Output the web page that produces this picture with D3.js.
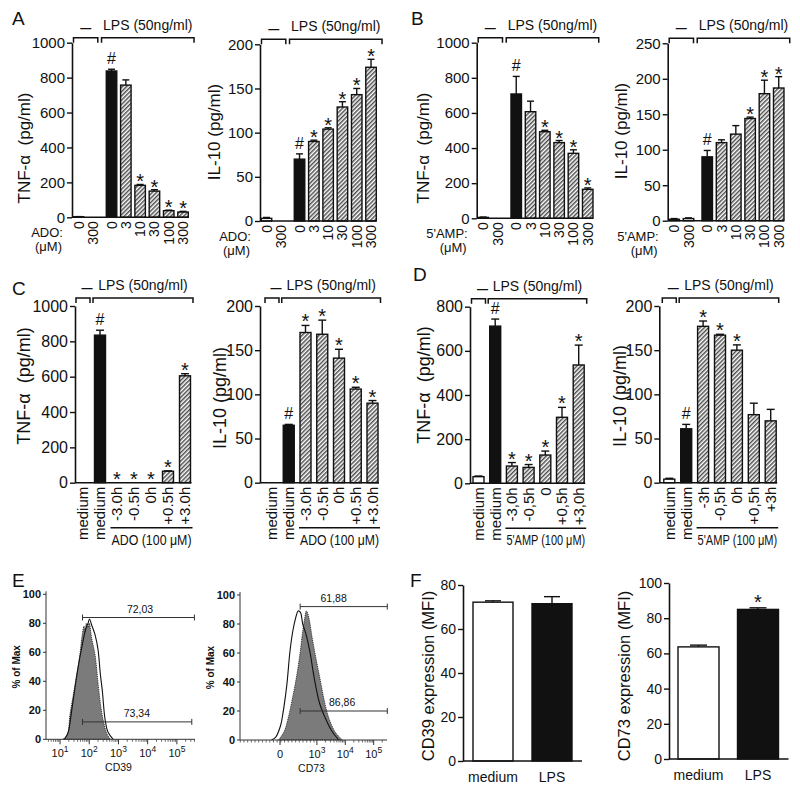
<!DOCTYPE html>
<html>
<head>
<meta charset="utf-8">
<script src="https://cdn.jsdelivr.net/npm/d3@7"></script>
<style>
  body { margin: 0; background: #fff; }
  svg text { font-family: "Liberation Sans", Arial, sans-serif; fill: #111; }
</style>
</head>
<body>
<svg id="fig" width="800" height="788"></svg>
<script>
// ---- data: panels A / B (dose response) ----
const doseLabels = ['0', '300', '0', '3', '10', '30', '100', '300'];
const doseGroups = [0, 0, 1, 1, 1, 1, 1, 1];
const doseFills = ['white', 'white', 'black', 'hatch', 'hatch', 'hatch', 'hatch', 'hatch'];

const adoTnf = [3, 0, 838, 757, 183, 150, 38, 30];
const adoTnfErr = [1, 0, 10, 30, 5, 8, 3, 4];
const adoTnfMarks = ['', '', '#', '', '*', '*', '*', '*'];

const adoIl10 = [3, 0, 70, 90, 104, 129, 143, 174];
const adoIl10Err = [1, 0, 6, 1.5, 1.5, 6, 7, 9];
const adoIl10Marks = ['', '', '#', '*', '*', '*', '*', '*'];

const ampTnf = [5, 0, 708, 607, 493, 431, 370, 165];
const ampTnfErr = [2, 0, 100, 60, 8, 12, 20, 8];
const ampTnfMarks = ['', '', '#', '', '*', '*', '*', '*'];

const ampIl10 = [2, 3, 90, 110, 122, 144, 179, 187];
const ampIl10Err = [1, 1, 9, 4, 12, 2, 19, 16];
const ampIl10Marks = ['', '', '#', '', '', '*', '*', '*'];

// ---- data: panels C / D (time of addition) ----
const timeFills = ['white', 'black', 'hatch', 'hatch', 'hatch', 'hatch', 'hatch'];
const adoTimeLabels = ['medium', 'medium', '-3.0h', '-0.5h', '0h', '+0.5h', '+3.0h'];
const ampTimeLabelsTnf = ['medium', 'medium', '-3,0h', '-0,5h', '0', '+0,5h', '+3,0h'];
const ampTimeLabelsIl10 = ['medium', 'medium', '-3h', '-0,5h', '0h', '+0,5h', '+3h'];

const adoTimeTnf = [0, 835, 0, 0, 0, 65, 605];
const adoTimeTnfErr = [0, 28, 0, 0, 0, 2, 12];
const adoTimeTnfMarks = ['', '#', '*', '*', '*', '*', '*'];

const adoTimeIl10 = [0, 65, 170, 168, 141, 106, 90];
const adoTimeIl10Err = [0, 1, 8, 16, 10, 2, 3];
const adoTimeIl10Marks = ['', '#', '*', '*', '*', '*', '*'];

const ampTimeTnf = [30, 712, 78, 72, 128, 299, 536];
const ampTimeTnfErr = [3, 32, 16, 13, 18, 45, 90];
const ampTimeTnfMarks = ['', '#', '*', '*', '*', '*', '*'];

const ampTimeIl10 = [4, 61, 177, 167, 150, 77, 70];
const ampTimeIl10Err = [1, 5, 6, 1, 6, 13, 13];
const ampTimeIl10Marks = ['', '#', '*', '*', '*', '', ''];

// ---- data: panel F (MFI) ----
const mfiLabels = ['medium', 'LPS'];
const mfiFills = ['white', 'black'];
const cd39Mfi = [72.2, 71.5];
const cd39MfiErr = [0.6, 3.2];
const cd73Mfi = [63.7, 85];
const cd73MfiErr = [1, 0.9];
const cd73Marks = ['', '*'];

// ---- data: panel E (histograms, [x on display axis, % of max]) ----
// CD39: x in log10 units
const cd39Filled = [[1.1, 0], [1.25, 3], [1.34, 17], [1.45, 30], [1.55, 42], [1.62, 50], [1.69, 60],
  [1.76, 72], [1.82, 78], [1.86, 74], [1.9, 80], [1.95, 77], [2.0, 80], [2.08, 70], [2.2, 58],
  [2.31, 37], [2.4, 22], [2.49, 12], [2.6, 4], [2.72, 0]];
const cd39Open = [[1.15, 0], [1.28, 5], [1.4, 20], [1.5, 34], [1.62, 50], [1.75, 64], [1.88, 76],
  [1.96, 80], [2.01, 83], [2.08, 79], [2.2, 72], [2.3, 62], [2.38, 45], [2.45, 33], [2.54, 14],
  [2.64, 5], [2.82, 0]];
const cd39Ticks = ['1', '2', '3', '4', '5'];
const cd39Gates = [
  { pct: 84, from: 1.77, to: 5.6, label: '72,03', lx: 3.74 },
  { pct: 12, from: 1.77, to: 5.51, label: '73,34', lx: 3.63 }
];
// CD73: x on the biexponential display axis (0 -> '0', 1.3 -> 10^3 ...)
const cd73Open = [[-0.3, 0], [-0.15, 2], [0.02, 10], [0.1, 18], [0.24, 38], [0.35, 61], [0.45, 75],
  [0.55, 84], [0.64, 89], [0.72, 88], [0.8, 80], [0.9, 74], [1.0, 66], [1.08, 58], [1.16, 48],
  [1.26, 37], [1.4, 25], [1.6, 15], [1.83, 6], [2.07, 0]];
const cd73Filled = [[-0.05, 0], [0.15, 6], [0.3, 16], [0.43, 28], [0.55, 40], [0.65, 52], [0.72, 62],
  [0.8, 75], [0.87, 84], [0.93, 89], [0.98, 87], [1.04, 82], [1.12, 72], [1.22, 61], [1.34, 49],
  [1.45, 38], [1.55, 28], [1.66, 19], [1.8, 11], [1.96, 5], [2.2, 0]];
const cd73Ticks = [{ d: 0, base: '0', exp: '' }, { d: 1.3, base: '10', exp: '3' },
  { d: 2.3, base: '10', exp: '4' }, { d: 3.3, base: '10', exp: '5' }];
const cd73Gates = [
  { pct: 92, from: 0.71, to: 3.78, label: '61,88', lx: 1.89 },
  { pct: 20, from: 0.71, to: 3.78, label: '86,86', lx: 2.19 }
];

const svg = d3.select('#fig');
const INK = '#111';

// diagonal hatch for the treated bars
const hatch = svg.append('defs').append('pattern')
  .attr('id', 'hatch')
  .attr('patternUnits', 'userSpaceOnUse')
  .attr('width', 3).attr('height', 3)
  .attr('patternTransform', 'rotate(45)');
hatch.append('rect').attr('width', 3).attr('height', 3).attr('fill', '#fff');
hatch.append('line').attr('x1', 0.8).attr('x2', 0.8).attr('y1', 0).attr('y2', 3)
  .attr('stroke', '#222').attr('stroke-width', 1.2);

function fillOf(t) {
  if (t === 'black') return INK;
  if (t === 'hatch') return 'url(#hatch)';
  return '#fff';
}

function barChart(c) {
  const g = svg.append('g');
  const y = d3.scaleLinear().domain([0, c.max]).range([c.bottom, c.top]);
  const x = d3.scaleLinear().domain([0, 1]).range([c.axisX + c.first, c.axisX + c.first + c.step]);
  const pos = c.values.map((v, i) => x(i + (c.groups ? c.groups[i] * c.gap : 0)));
  const bw = c.barW;

  g.selectAll('rect').data(c.values).join('rect')
    .attr('x', (d, i) => pos[i] - bw / 2)
    .attr('y', d => y(d))
    .attr('width', bw)
    .attr('height', d => y(0) - y(d))
    .attr('fill', (d, i) => fillOf(c.fills[i]))
    .attr('stroke', INK)
    .attr('stroke-width', 1.4);

  // error bars, upper side only
  c.values.forEach((v, i) => {
    const e = c.errs[i];
    if (!e) return;
    g.append('line').attr('x1', pos[i]).attr('x2', pos[i])
      .attr('y1', y(v)).attr('y2', y(v + e)).attr('stroke', INK).attr('stroke-width', 1.4);
    g.append('line').attr('x1', pos[i] - c.capW / 2).attr('x2', pos[i] + c.capW / 2)
      .attr('y1', y(v + e)).attr('y2', y(v + e)).attr('stroke', INK).attr('stroke-width', 1.4);
  });

  if (c.marks) {
    c.marks.forEach((m, i) => {
      if (!m) return;
      const top = y(c.values[i] + c.errs[i]);
      g.append('text')
        .attr('x', pos[i])
        .attr('y', m === '*' ? top + c.starDy : top - 5)
        .attr('text-anchor', 'middle')
        .attr('font-size', m === '*' ? c.starFont : 16)
        .text(m);
    });
  }

  // axes
  const ax = g.append('g').attr('transform', `translate(${c.axisX},0)`)
    .call(d3.axisLeft(y).tickValues(c.ticks).tickFormat(d3.format('d'))
      .tickSize(5).tickSizeOuter(0).tickPadding(2));
  ax.select('.domain').attr('stroke', INK).attr('stroke-width', 1.6);
  ax.selectAll('.tick line').attr('stroke', INK).attr('stroke-width', 1.4);
  ax.selectAll('.tick text').attr('font-size', c.tickFont)
    .attr('font-family', '"Liberation Sans", Arial, sans-serif');
  g.append('line')
    .attr('x1', c.axisX).attr('x2', pos[pos.length - 1] + bw / 2 + c.xEnd)
    .attr('y1', y(0)).attr('y2', y(0))
    .attr('stroke', INK).attr('stroke-width', 1.6);

  g.append('text')
    .attr('transform', `translate(${c.titleX},${c.titleY}) rotate(-90)`)
    .attr('text-anchor', 'middle')
    .attr('font-size', c.titleFont)
    .text(c.title);

  // category labels
  if (c.rotated) {
    c.labels.forEach((t, i) => {
      g.append('text')
        .attr('transform', `translate(${pos[i] + c.labelFont * 0.36},${y(0) + 4}) rotate(-90)`)
        .attr('text-anchor', 'end')
        .attr('font-size', c.labelFont)
        .text(t);
    });
  } else {
    c.labels.forEach((t, i) => {
      g.append('text').attr('x', pos[i]).attr('y', y(0) + 21)
        .attr('text-anchor', 'middle').attr('font-size', c.labelFont).text(t);
    });
  }

  // treatment brackets above the plot
  if (c.brackets) {
    const by = c.top - c.bracketDrop;
    c.brackets.forEach(b => {
      const x1 = pos[b.from] - b.padL;
      const x2 = pos[b.to] + b.padR;
      const dash = b.text === '—';
      g.append('path')
        .attr('d', `M${x1},${by + 5}V${by}H${x2}V${by + 5}`)
        .attr('fill', 'none').attr('stroke', INK).attr('stroke-width', 1.5);
      g.append('text').attr('x', (x1 + x2) / 2 + (b.dx || 0))
        .attr('y', dash ? by - 6 : by - 8)
        .attr('text-anchor', 'middle')
        .attr('font-size', dash ? 11 : 14)
        .attr('font-weight', dash ? 'bold' : null)
        .text(b.text);
    });
  }

  // drug label on the left of the dose row
  if (c.drug) {
    g.append('text').attr('x', c.axisX - 9).attr('y', y(0) + 20)
      .attr('text-anchor', 'end').attr('font-size', 13).text(c.drug);
    g.append('text').attr('x', c.axisX - 10).attr('y', y(0) + 34)
      .attr('text-anchor', 'end').attr('font-size', 13).text('(μM)');
  }

  // underline with treatment name for the time panels
  if (c.under) {
    const x1 = pos[2] - bw / 2 - 1;
    const x2 = pos[pos.length - 1] + bw / 2 + 2;
    const uy = y(0) + 45;
    g.append('line').attr('x1', x1).attr('x2', x2).attr('y1', uy).attr('y2', uy)
      .attr('stroke', INK).attr('stroke-width', 1.5);
    g.append('text').attr('x', (x1 + x2) / 2).attr('y', uy + 17)
      .attr('text-anchor', 'middle').attr('font-size', 14)
      .attr('textLength', x2 - x1 - 2).attr('lengthAdjust', 'spacingAndGlyphs')
      .text(c.under);
  }
}

function flowPanel(c) {
  const g = svg.append('g');
  const x = d3.scaleLinear().domain(c.xDomain).range([c.left, c.right]);
  const y = d3.scaleLinear().domain([0, 100]).range([c.bottom, c.top]);

  const area = d3.area().x(d => x(d[0])).y0(y(0)).y1(d => y(d[1])).curve(d3.curveCatmullRom);
  const line = d3.line().x(d => x(d[0])).y(d => y(d[1])).curve(d3.curveCatmullRom);
  g.append('path').datum(c.filled).attr('d', area)
    .attr('fill', '#7b7b7b').attr('stroke', '#222').attr('stroke-width', 0.9)
    .attr('stroke-dasharray', '1.2,1');
  g.append('path').datum(c.open).attr('d', line)
    .attr('fill', 'none').attr('stroke', INK).attr('stroke-width', 1.1);

  // axes
  g.append('path').attr('d', `M${c.left},${y(100) - 3}V${y(0)}H${c.right}`)
    .attr('fill', 'none').attr('stroke', '#333').attr('stroke-width', 1);
  [0, 20, 40, 60, 80, 100].forEach(v => {
    g.append('line').attr('x1', c.left - 3).attr('x2', c.left).attr('y1', y(v)).attr('y2', y(v))
      .attr('stroke', '#333');
    g.append('text').attr('x', c.left - 5).attr('y', y(v) + 4)
      .attr('text-anchor', 'end').attr('font-size', 11).attr('font-weight', 'bold').text(v);
  });
  c.minor.forEach(d => {
    if (d < c.xDomain[0] || d > c.xDomain[1]) return;
    g.append('line').attr('x1', x(d)).attr('x2', x(d)).attr('y1', y(0)).attr('y2', y(0) + 2.5)
      .attr('stroke', '#444').attr('stroke-width', 0.8);
  });
  c.ticks.forEach(t => {
    g.append('line').attr('x1', x(t.d)).attr('x2', x(t.d)).attr('y1', y(0)).attr('y2', y(0) + 5)
      .attr('stroke', '#333');
    const tx = g.append('text').attr('x', x(t.d)).attr('y', y(0) + 18)
      .attr('text-anchor', 'middle').attr('font-size', 11);
    tx.append('tspan').text(t.base);
    if (t.exp) tx.append('tspan').attr('dy', -5).attr('font-size', 8.5).text(t.exp);
  });

  g.append('text').attr('x', (c.left + c.right) / 2 - 2).attr('y', y(0) + 32)
    .attr('text-anchor', 'middle').attr('font-size', 10.5).text(c.xTitle);
  g.append('text')
    .attr('transform', `translate(${c.left - 26},${(y(0) + y(100)) / 2}) rotate(-90)`)
    .attr('text-anchor', 'middle').attr('font-size', 10).attr('font-weight', 'bold').text('% of Max');

  // gates
  c.gates.forEach(gt => {
    const gy = y(gt.pct);
    g.append('path')
      .attr('d', `M${x(gt.from)},${gy - 3}V${gy + 3}M${x(gt.from)},${gy}H${x(gt.to)}M${x(gt.to)},${gy - 3}V${gy + 3}`)
      .attr('fill', 'none').attr('stroke', '#333').attr('stroke-width', 1);
    g.append('text').attr('x', x(gt.lx)).attr('y', gy - 5)
      .attr('text-anchor', 'middle').attr('font-size', 10.5).text(gt.label);
  });
}

// ---- panel letters ----
[['A', 12, 25], ['B', 411, 25], ['C', 12, 295], ['D', 413, 281], ['E', 12, 587], ['F', 410, 587]]
  .forEach(([t, x, y]) => svg.append('text').attr('x', x).attr('y', y).attr('font-size', 19).text(t));

const TNF = 'TNF-α\u00a0 (pg/ml)';
const row1 = {
  groups: doseGroups, gap: 0.31, first: 6.5, step: 14.3, barW: 10.5, capW: 7, xEnd: 0,
  labels: doseLabels, fills: doseFills, rotated: true, labelFont: 14, tickFont: 15,
  titleFont: 17, starFont: 20, starDy: 4, bracketDrop: 5,
  brackets: [
    { from: 0, to: 1, padL: 5, padR: 5, text: '—' },
    { from: 2, to: 7, padL: 10, padR: 11, text: 'LPS (50ng/ml)' }
  ]
};
barChart(Object.assign({}, row1, {
  axisX: 72, top: 42.7, bottom: 217.3, max: 1000, ticks: d3.range(0, 1001, 200),
  values: adoTnf, errs: adoTnfErr, marks: adoTnfMarks, drug: 'ADO:',
  title: TNF, titleX: 29.5, titleY: 148
}));
barChart(Object.assign({}, row1, {
  axisX: 260, top: 44.3, bottom: 221, max: 200, ticks: d3.range(0, 201, 50),
  values: adoIl10, errs: adoIl10Err, marks: adoIl10Marks, drug: 'ADO:',
  title: 'IL-10 (pg/ml)', titleX: 220, titleY: 132
}));
barChart(Object.assign({}, row1, {
  axisX: 476.7, top: 42.7, bottom: 218.3, max: 1000, ticks: d3.range(0, 1001, 200),
  values: ampTnf, errs: ampTnfErr, marks: ampTnfMarks, drug: "5'AMP:",
  title: TNF, titleX: 428.5, titleY: 148
}));
barChart(Object.assign({}, row1, {
  axisX: 667.7, top: 43.3, bottom: 220.7, max: 250, ticks: d3.range(0, 251, 50),
  values: ampIl10, errs: ampIl10Err, marks: ampIl10Marks, drug: "5'AMP:",
  title: 'IL-10 (pg/ml)', titleX: 627, titleY: 131
}));

const row2 = {
  barW: 11, capW: 8, xEnd: 1, fills: timeFills, rotated: true, labelFont: 15, tickFont: 16,
  titleFont: 18, starFont: 20, starDy: 3, bracketDrop: 8,
  brackets: [
    { from: 0, to: 0, padL: 7, padR: 7, text: '—', dx: 4 },
    { from: 1, to: 6, padL: 7, padR: 8, text: 'LPS (50ng/ml)' }
  ]
};
barChart(Object.assign({}, row2, {
  axisX: 75, top: 306, bottom: 482.7, max: 1000, ticks: d3.range(0, 1001, 200), first: 8, step: 17,
  values: adoTimeTnf, errs: adoTimeTnfErr, marks: adoTimeTnfMarks, labels: adoTimeLabels,
  under: 'ADO (100 μM)', title: TNF, titleX: 29.5, titleY: 386
}));
barChart(Object.assign({}, row2, {
  axisX: 260, top: 306, bottom: 482.7, max: 200, ticks: d3.range(0, 201, 50), first: 12, step: 16.75,
  values: adoTimeIl10, errs: adoTimeIl10Err, marks: adoTimeIl10Marks, labels: adoTimeLabels,
  under: 'ADO (100 μM)', title: 'IL-10 (pg/ml)', titleX: 226, titleY: 398
}));
barChart(Object.assign({}, row2, {
  axisX: 470, top: 306.7, bottom: 483.3, max: 800, ticks: d3.range(0, 801, 200), first: 8.5, step: 16.7,
  values: ampTimeTnf, errs: ampTimeTnfErr, marks: ampTimeTnfMarks, labels: ampTimeLabelsTnf,
  under: "5'AMP (100 μM)", title: TNF, titleX: 429.5, titleY: 385
}));
barChart(Object.assign({}, row2, {
  axisX: 659.3, top: 306, bottom: 482.7, max: 200, ticks: d3.range(0, 201, 50), first: 10, step: 16.9,
  values: ampTimeIl10, errs: ampTimeIl10Err, marks: ampTimeIl10Marks, labels: ampTimeLabelsIl10,
  under: "5'AMP (100 μM)", title: 'IL-10 (pg/ml)', titleX: 626, titleY: 396
}));

// ---- panel E ----
const logMinor = [];
for (let n = 0; n < 6; n++) for (let k = 2; k < 10; k++) logMinor.push(n + Math.log10(k));
flowPanel({
  left: 46, right: 195, top: 594.3, bottom: 739.3, xDomain: [0.52, 5.62],
  filled: cd39Filled, open: cd39Open, gates: cd39Gates, xTitle: 'CD39',
  ticks: cd39Ticks.map(e => ({ d: +e, base: '10', exp: e })), minor: logMinor
});
const biexMinor = d3.range(-1.4, 1.3, 0.13).concat(logMinor.map(v => v + 0.3).filter(v => v > 1.3));
flowPanel({
  left: 240, right: 387, top: 595, bottom: 740, xDomain: [-1.41, 3.77],
  filled: cd73Filled, open: cd73Open, gates: cd73Gates, xTitle: 'CD73',
  ticks: cd73Ticks, minor: biexMinor
});

// ---- panel F ----
const rowF = {
  first: 30, step: 59, barW: 40, xEnd: 10, fills: mfiFills, rotated: false, labelFont: 14,
  tickFont: 14, titleFont: 16.5, starFont: 20, starDy: 1, labels: mfiLabels
};
barChart(Object.assign({}, rowF, {
  axisX: 463, top: 585, bottom: 761, max: 80, ticks: d3.range(0, 81, 20), capW: 16,
  values: cd39Mfi, errs: cd39MfiErr, title: 'CD39 expression (MFI)', titleX: 434, titleY: 676
}));
barChart(Object.assign({}, rowF, {
  axisX: 669, top: 583, bottom: 759, max: 100, ticks: d3.range(0, 101, 20), capW: 17,
  first: 29.5, step: 59.5, barW: 41,
  values: cd73Mfi, errs: cd73MfiErr, marks: cd73Marks, title: 'CD73 expression (MFI)', titleX: 630, titleY: 676
}));
</script>
</body>
</html>
